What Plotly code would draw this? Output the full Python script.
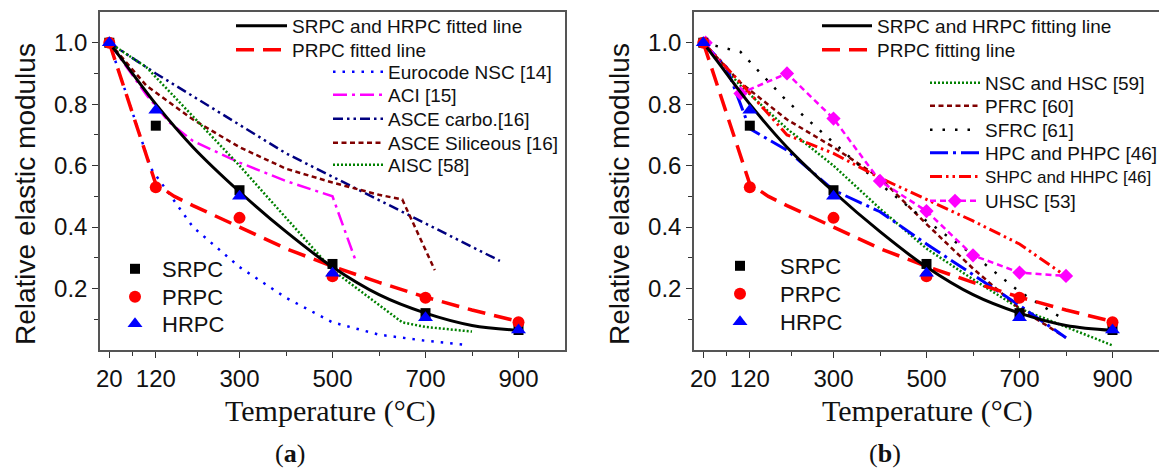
import plotly.graph_objects as go

W, H = 1159, 468
SANS = "Liberation Sans, Arial, sans-serif"
SERIF = "Liberation Serif, Times New Roman, serif"

# ---------------- data ----------------
T_exp = [20, 120, 300, 500, 700, 900]
SRPC = [1.0, 0.73, 0.52, 0.28, 0.12, 0.065]
PRPC = [1.0, 0.53, 0.43, 0.24, 0.17, 0.09]
HRPC = [1.0, 0.78, 0.50, 0.25, 0.105, 0.065]

fit_T = [20, 50, 120, 200, 300, 400, 500, 600, 700, 800, 900]
fit_SH = [1.0, 0.94, 0.80, 0.66, 0.515, 0.385, 0.27, 0.18, 0.12, 0.08, 0.064]

fitP_T = [20, 120, 160, 200, 300, 400, 500, 600, 700, 800, 900]
fitP = [1.0, 0.54, 0.50, 0.47, 0.40, 0.33, 0.272, 0.22, 0.172, 0.13, 0.093]

# panel (a) reference models
euro_T = [20, 110, 200, 300, 400, 500, 600, 700, 780]
euro_v = [1.0, 0.59, 0.40, 0.27, 0.17, 0.09, 0.05, 0.03, 0.018]
aci_T = [20, 100, 150, 200, 300, 400, 500, 550]
aci_v = [1.0, 0.83, 0.74, 0.68, 0.61, 0.55, 0.50, 0.29]
asceC_T = [20, 120, 400, 860]
asceC_v = [1.0, 0.90, 0.64, 0.29]
asceS_T = [20, 100, 200, 300, 400, 500, 600, 650, 720]
asceS_v = [1.0, 0.86, 0.75, 0.66, 0.59, 0.545, 0.505, 0.49, 0.26]
aisc_T = [20, 100, 200, 300, 400, 500, 650, 700, 800]
aisc_v = [1.0, 0.92, 0.76, 0.60, 0.43, 0.26, 0.09, 0.075, 0.06]

# panel (b) reference models
nsc_T = [20, 100, 200, 300, 400, 500, 600, 700, 800, 900]
nsc_v = [1.0, 0.86, 0.72, 0.60, 0.46, 0.33, 0.23, 0.135, 0.075, 0.015]
pfrc_T = [20, 100, 200, 300, 400, 500, 600, 700, 800]
pfrc_v = [1.0, 0.87, 0.75, 0.66, 0.56, 0.41, 0.265, 0.135, 0.04]
sfrc_T = [20, 100, 200, 300, 400, 500, 600, 700, 790]
sfrc_v = [1.0, 0.97, 0.81, 0.675, 0.54, 0.42, 0.31, 0.19, 0.105]
hpc_T = [20, 70, 120, 200, 300, 400, 500, 600, 700, 800]
hpc_v = [1.0, 0.92, 0.72, 0.65, 0.52, 0.45, 0.345, 0.245, 0.145, 0.04]
shpc_T = [20, 100, 200, 300, 400, 500, 600, 700, 800]
shpc_v = [1.0, 0.87, 0.70, 0.64, 0.56, 0.49, 0.42, 0.345, 0.24]
uhsc_T = [25, 100, 200, 300, 400, 500, 600, 700, 800]
uhsc_v = [1.0, 0.835, 0.90, 0.753, 0.55, 0.452, 0.308, 0.252, 0.241]

x_ticks = [20, 120, 300, 500, 700, 900]
x_minor = [70, 210, 400, 600, 800]
y_ticks = [0.2, 0.4, 0.6, 0.8, 1.0]
y_minor = [0.1, 0.3, 0.5, 0.7, 0.9]

# ---------------- figure ----------------
fig = go.Figure()
legends = {}
counter = [0]


def new_legend(left_px, y_px, size, itemwidth=30):
    counter[0] += 1
    name = "legend" if counter[0] == 1 else "legend%d" % counter[0]
    legends[name] = dict(
        x=left_px / W, y=1 - y_px / H, xanchor="left", yanchor="middle",
        bgcolor="rgba(0,0,0,0)", borderwidth=0, itemwidth=itemwidth,
        font=dict(family=SANS, size=size, color="#111"), tracegroupgap=0,
    )
    return name


def line(panel, xs, ys, name, color, width, dash, leg, shape="linear"):
    fig.add_trace(go.Scatter(
        x=xs, y=ys, mode="lines", name=name,
        line=dict(color=color, width=width, dash=dash, shape=shape),
        xaxis="x" if panel == 1 else "x2", yaxis="y" if panel == 1 else "y2",
        legend=leg, showlegend=True))


def pts(panel, ys, name, symbol, color, size, leg):
    fig.add_trace(go.Scatter(
        x=T_exp, y=ys, mode="markers", name=name,
        marker=dict(symbol=symbol, color=color, size=size, line=dict(width=0)),
        xaxis="x" if panel == 1 else "x2", yaxis="y" if panel == 1 else "y2",
        legend=leg, showlegend=True))


# ----- panel (a)
line(1, euro_T, euro_v, "Eurocode NSC [14]", "#0000FF", 2.5, "2.5px,7px", new_legend(328, 72, 19, 50))
line(1, aci_T, aci_v, "ACI [15]", "#FF00FF", 2.5, "14px,5px,3px,5px", new_legend(328, 95, 19, 50))
line(1, asceC_T, asceC_v, "ASCE carbo.[16]", "#000080", 2.5, "10px,4px,2.5px,4px,2.5px,4px", new_legend(328, 119, 19, 50))
line(1, asceS_T, asceS_v, "ASCE Siliceous [16]", "#800000", 2.5, "5px,3.5px", new_legend(328, 143, 19, 50))
line(1, aisc_T, aisc_v, "AISC [58]", "#008000", 2.5, "2px,2px", new_legend(328, 165, 19, 50))
line(1, fitP_T, fitP, "PRPC fitted line", "#FF0000", 3.5, "18px,9px", new_legend(231, 50, 19, 51))
line(1, fit_T, fit_SH, "SRPC and HRPC fitted line", "#000000", 3, "solid", new_legend(231, 26, 19, 51), "spline")
pts(1, SRPC, "SRPC", "square", "#000000", 10, new_legend(108, 269, 22, 44))
pts(1, PRPC, "PRPC", "circle", "#FF0000", 12, new_legend(108, 297, 22, 44))
pts(1, HRPC, "HRPC", "triangle-up", "#0000FF", 13, new_legend(108, 324, 22, 44))

# ----- panel (b)
line(2, nsc_T, nsc_v, "NSC and HSC [59]", "#008000", 2.5, "2px,2px", new_legend(925, 83, 19, 50))
line(2, pfrc_T, pfrc_v, "PFRC [60]", "#800000", 2.5, "5px,3.5px", new_legend(925, 106, 19, 50))
line(2, sfrc_T, sfrc_v, "SFRC [61]", "#000000", 2.5, "2.5px,10px", new_legend(925, 130, 19, 50))
line(2, hpc_T, hpc_v, "HPC and PHPC [46]", "#0000FF", 3, "18px,5px,3px,5px", new_legend(925, 153, 19, 50))
line(2, shpc_T, shpc_v, "SHPC and HHPC [46]", "#FF0000", 3, "12px,4px,2.5px,4px,2.5px,4px", new_legend(925, 177, 17, 50))
leg_u = new_legend(925, 201, 19, 50)
fig.add_trace(go.Scatter(
    x=uhsc_T, y=uhsc_v, mode="lines+markers", name="UHSC [53]",
    line=dict(color="#FF00FF", width=2.5, dash="6px,4px"),
    marker=dict(symbol="diamond", size=11, color="#FF00FF"),
    xaxis="x2", yaxis="y2", legend=leg_u, showlegend=True))
line(2, fitP_T, fitP, "PRPC fitting line", "#FF0000", 3.5, "18px,9px", new_legend(817, 50, 19, 50))
line(2, fit_T, fit_SH, "SRPC and HRPC fitting line", "#000000", 3, "solid", new_legend(817, 26, 19, 50), "spline")
pts(2, SRPC, "SRPC", "square", "#000000", 10, new_legend(700, 266, 22, 70))
pts(2, PRPC, "PRPC", "circle", "#FF0000", 12, new_legend(700, 294, 22, 70))
pts(2, HRPC, "HRPC", "triangle-up", "#0000FF", 13, new_legend(700, 322, 22, 70))


def xaxis(domain):
    return dict(
        domain=domain, range=[0, 1000], tickmode="array", tickvals=x_ticks,
        ticktext=[str(v) for v in x_ticks], ticks="outside", ticklen=6, tickwidth=1.2,
        tickcolor="#333",
        minor=dict(tickvals=x_minor, ticks="outside", ticklen=4, tickwidth=1.2, tickcolor="#333"),
        showline=True, linecolor="#555", linewidth=1.5, mirror=True,
        showgrid=False, zeroline=False,
        tickfont=dict(family=SANS, size=24, color="#111"),
    )


def yaxis(anchor):
    return dict(
        domain=[1 - 350 / H, 1 - 12 / H], range=[0, 1.1], anchor=anchor,
        tickmode="array", tickvals=y_ticks, ticktext=["%.1f" % v for v in y_ticks],
        ticks="outside", ticklen=6, tickwidth=1.2, tickcolor="#333",
        minor=dict(tickvals=y_minor, ticks="outside", ticklen=4, tickwidth=1.2, tickcolor="#333"),
        showline=True, linecolor="#555", linewidth=1.5, mirror=True,
        showgrid=False, zeroline=False,
        tickfont=dict(family=SANS, size=24, color="#111"),
    )


xa = xaxis([100 / W, 565 / W]); xa["anchor"] = "y"
xb = xaxis([694 / W, 1.0]); xb["anchor"] = "y2"


def note(text, xpx, ypx, family, size, angle=0):
    return dict(text=text, x=xpx / W, y=1 - ypx / H, xref="paper", yref="paper",
                textangle=angle, showarrow=False, xanchor="center", yanchor="middle",
                font=dict(family=family, size=size, color="#111"))


annotations = [
    note("Relative elastic modulus", 25, 194, SANS, 28, -90),
    note("Relative elastic modulus", 619, 194, SANS, 28, -90),
    note("Temperature (°C)", 330, 411, SERIF, 30),
    note("Temperature (°C)", 927, 411, SERIF, 30),
    note("(<b>a</b>)", 290, 453, SERIF, 26),
    note("(<b>b</b>)", 885, 453, SERIF, 26),
]

fig.update_layout(
    width=W, height=H, autosize=False,
    margin=dict(l=0, r=0, t=0, b=0, autoexpand=False),
    paper_bgcolor="white", plot_bgcolor="white",
    xaxis=xa, yaxis=yaxis("x"), xaxis2=xb, yaxis2=yaxis("x2"),
    annotations=annotations,
    **legends,
)

fig.write_html("out.html")
